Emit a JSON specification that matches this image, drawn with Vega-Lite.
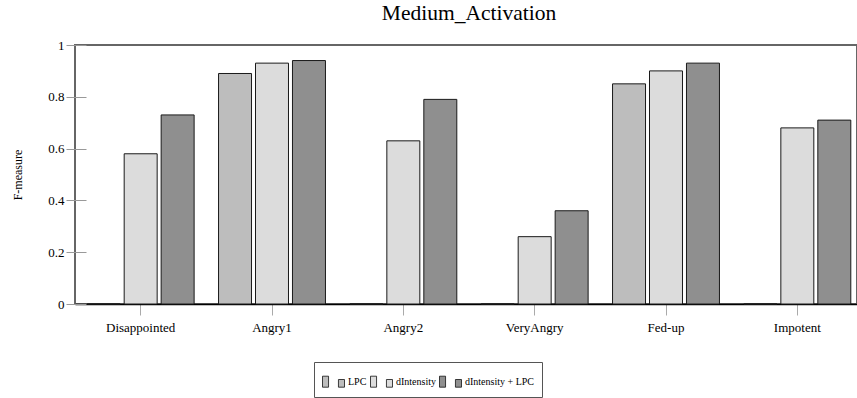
{
  "$schema": "https://vega.github.io/schema/vega-lite/v6.json",
  "autosize": {"type": "none"},
  "padding": {"left": 75, "top": 45, "right": 0, "bottom": 94},
  "width": 782,
  "height": 259,
  "title": {"text": "Medium_Activation", "font": "Liberation Serif", "fontSize": 21.5, "fontWeight": "normal", "color": "black", "anchor": "middle", "baseline": "alphabetic", "offset": -2, "dx": 3},
  "data": {"values": [
    {"emotion": "Disappointed", "feature": "LPC", "f": 0},
    {"emotion": "Disappointed", "feature": "dIntensity", "f": 0.58},
    {"emotion": "Disappointed", "feature": "dIntensity + LPC", "f": 0.73},
    {"emotion": "Angry1", "feature": "LPC", "f": 0.89},
    {"emotion": "Angry1", "feature": "dIntensity", "f": 0.93},
    {"emotion": "Angry1", "feature": "dIntensity + LPC", "f": 0.94},
    {"emotion": "Angry2", "feature": "LPC", "f": 0},
    {"emotion": "Angry2", "feature": "dIntensity", "f": 0.63},
    {"emotion": "Angry2", "feature": "dIntensity + LPC", "f": 0.79},
    {"emotion": "VeryAngry", "feature": "LPC", "f": 0},
    {"emotion": "VeryAngry", "feature": "dIntensity", "f": 0.26},
    {"emotion": "VeryAngry", "feature": "dIntensity + LPC", "f": 0.36},
    {"emotion": "Fed-up", "feature": "LPC", "f": 0.85},
    {"emotion": "Fed-up", "feature": "dIntensity", "f": 0.90},
    {"emotion": "Fed-up", "feature": "dIntensity + LPC", "f": 0.93},
    {"emotion": "Impotent", "feature": "LPC", "f": 0},
    {"emotion": "Impotent", "feature": "dIntensity", "f": 0.68},
    {"emotion": "Impotent", "feature": "dIntensity + LPC", "f": 0.71}
  ]},
  "mark": {"type": "bar", "stroke": "#1a1a1a", "strokeWidth": 1},
  "encoding": {
    "x": {
      "field": "emotion", "type": "nominal",
      "sort": ["Disappointed", "Angry1", "Angry2", "VeryAngry", "Fed-up", "Impotent"],
      "scale": {"range": [0, 788], "paddingInner": 0, "paddingOuter": 0},
      "axis": {"title": null, "labelAngle": 0, "labelFont": "Liberation Serif", "labelFontSize": 13, "labelColor": "black", "domainColor": "black", "domainWidth": 1.5, "tickColor": "#aaaaaa", "tickWidth": 1, "tickSize": 11, "labelPadding": 6}
    },
    "xOffset": {
      "field": "feature", "type": "nominal",
      "sort": ["LPC", "dIntensity", "dIntensity + LPC"],
      "scale": {"paddingInner": 0.108, "paddingOuter": 0.33}
    },
    "y": {
      "field": "f", "type": "quantitative",
      "scale": {"domain": [0, 1], "nice": false},
      "axis": {"title": "F-measure", "titleFont": "Liberation Serif", "titleFontSize": 12, "titleFontWeight": "normal", "titleColor": "black", "titleX": -69, "titleY": 129.5, "titleAngle": -90, "titleBaseline": "middle", "titleAlign": "center", "values": [0, 0.2, 0.4, 0.6, 0.8, 1], "format": "~g", "offset": -11, "domain": false, "tickSize": 20, "tickColor": "#999999", "tickWidth": 1, "labelPadding": 2, "labelFont": "Liberation Serif", "labelFontSize": 13, "labelColor": "black", "grid": false}
    },
    "fill": {
      "field": "feature", "type": "nominal",
      "sort": ["LPC", "dIntensity", "dIntensity + LPC"],
      "scale": {"domain": ["LPC", "dIntensity", "dIntensity + LPC"], "range": ["#bdbdbd", "#dcdcdc", "#8f8f8f"]},
      "legend": {"orient": "none", "legendX": 239, "legendY": 317, "direction": "horizontal", "title": null, "symbolType": "M-1,-0.5H-0.45V0.5H-1Z M0.45,-0.2H1V0.5H0.45Z", "symbolSize": 484, "symbolStrokeColor": "#111111", "symbolStrokeWidth": 0.8, "symbolOpacity": 1, "labelFont": "Liberation Serif", "labelFontSize": 10, "labelColor": "black", "labelOffset": 3, "columnPadding": 1, "padding": 8, "strokeColor": "#555555"}
    }
  },
  "config": {"view": {"stroke": "#666666", "strokeWidth": 2}, "axis": {"grid": false}}
}
